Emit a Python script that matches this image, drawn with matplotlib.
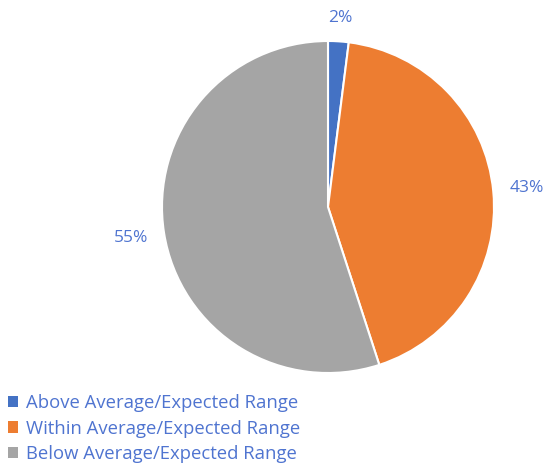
import matplotlib
matplotlib.use("Agg")
from matplotlib import pyplot as plt
from matplotlib.patches import Patch

categorias = ['Above Average/Expected Range', 'Within Average/Expected Range', 'Below Average/Expected Range']
porcentajes = [2, 43, 55]
colores = ['#4472C4', '#ED7D31', '#A5A5A5']
color_texto = '#4F74D0'

plt.rcParams['font.family'] = ['Open Sans', 'DejaVu Sans']

fig = plt.figure(figsize=(5.44, 4.66), dpi=100)
ax = fig.add_axes([162 / 544, 93 / 466, 332 / 544, 332 / 466])

etiquetas = [f'{p}%' for p in porcentajes]
wedges, textos = ax.pie(porcentajes, colors=colores, startangle=90, counterclock=False,
                        labels=etiquetas, labeldistance=1.2,
                        wedgeprops=dict(edgecolor='white', linewidth=1.5),
                        textprops=dict(color=color_texto, fontsize=12.5))
for t in textos:
    t.set_ha('center')
textos[0].set_position((textos[0].get_position()[0], 1.14))
ax.set_xlim(-1, 1)
ax.set_ylim(-1, 1)
ax.set_aspect('equal')

handles = [Patch(facecolor=c, edgecolor='none') for c in colores]
fig.legend(handles, categorias, loc='upper left', bbox_to_anchor=(0.014, 0.155),
           frameon=False, fontsize=13.3, labelcolor=color_texto,
           handlelength=0.55, handleheight=0.55, handletextpad=0.45, labelspacing=0.42,
           borderaxespad=0, borderpad=0)

fig.savefig('out.png', dpi=100)
